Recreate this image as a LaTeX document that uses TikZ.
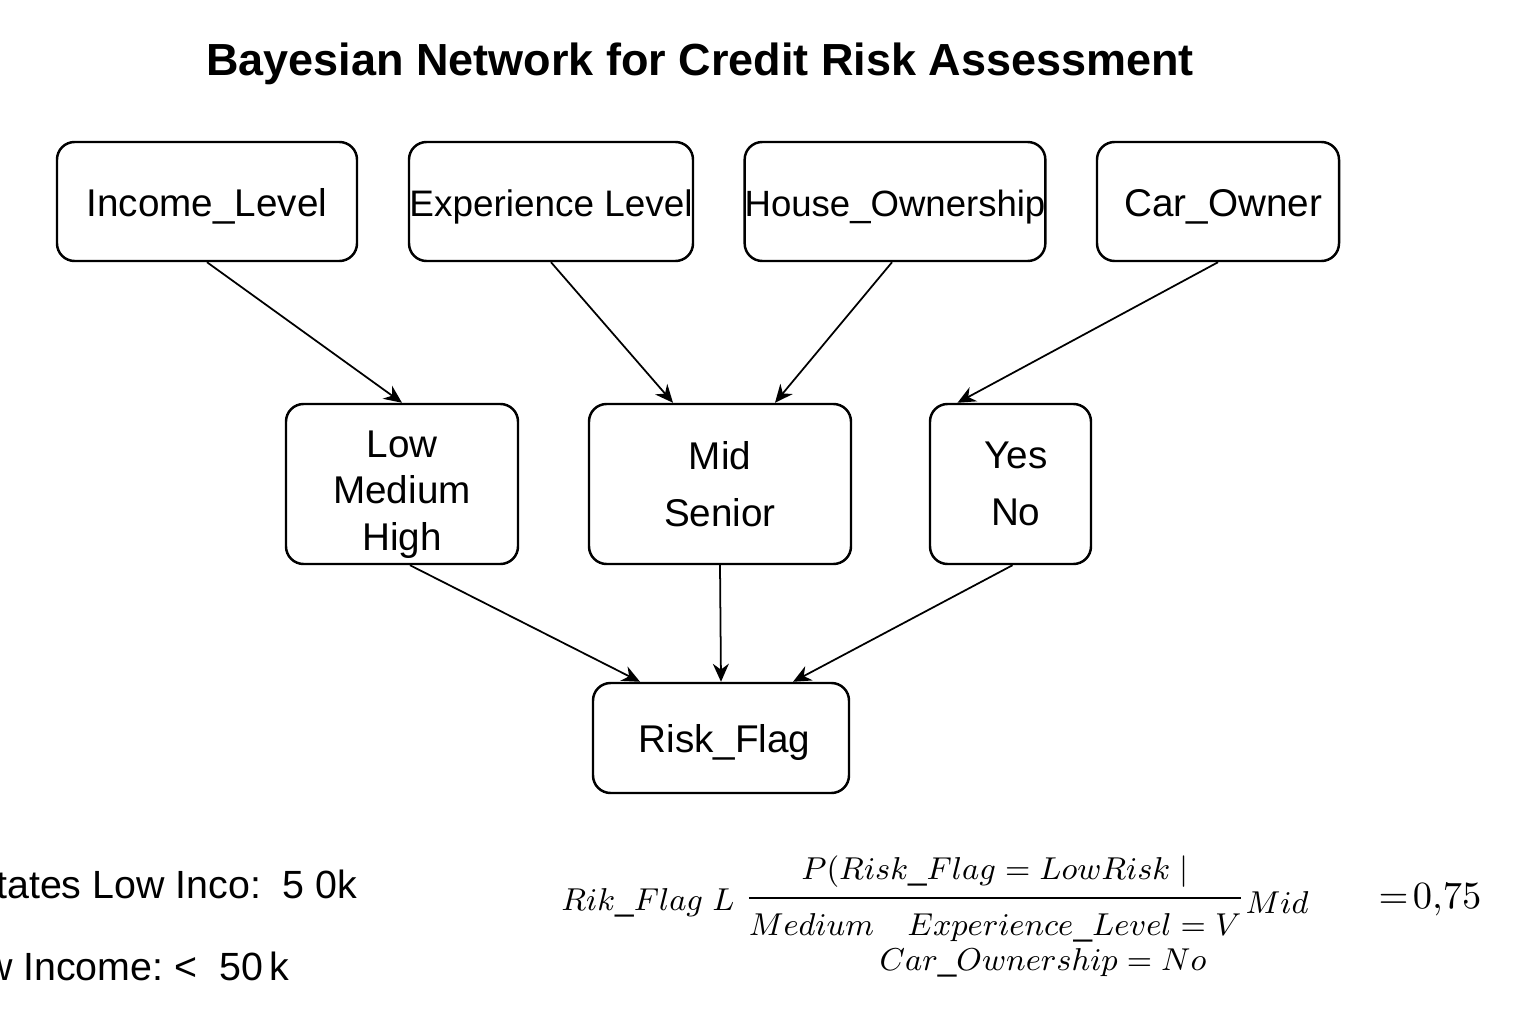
\documentclass[tikz,border=0pt]{standalone}
\usepackage[no-math]{fontspec}
\setmainfont{Liberation Sans}
\usepackage{amsmath}
\usepackage{tikz}
\usetikzlibrary{arrows.meta,positioning,calc}

\tikzset{
  bnode/.style={draw, line width=0.7pt, rounded corners=5pt, align=center,
    font=\fontsize{11}{13.2}\selectfont, inner sep=0pt},
  oneline/.style={text height=8.5pt, text depth=0pt},
  bedge/.style={-{Stealth[length=1.8mm, width=1.6mm]}, line width=0.5pt},
  eqtext/.style={font=\fontsize{9.5}{11.5}\selectfont, inner sep=0pt},
  notetext/.style={anchor=base east, font=\fontsize{11.2}{13}\selectfont, inner sep=0pt}
}

\begin{document}
\begin{tikzpicture}
  \useasboundingbox (0,0) rectangle (15.36,10.24);
  \node[font=\fontsize{12.8}{15}\selectfont\bfseries] (title) at (7.00,9.60)
    {Bayesian Network for Credit Risk Assessment};
  % parent variables
  \node[bnode, oneline, minimum width=3.00cm, minimum height=1.19cm] (income) at (2.07,8.225) {Income\_Level};
  \node[bnode, oneline, minimum width=2.84cm, minimum height=1.19cm,
    font=\fontsize{10.5}{12}\selectfont] (exper) at (5.51,8.225) {Experience Level};
  \node[bnode, oneline, minimum width=3.00cm, minimum height=1.19cm,
    font=\fontsize{10.4}{12}\selectfont] (house) at (8.95,8.225) {House\_Ownership};
  \node[bnode, oneline, minimum width=2.42cm, minimum height=1.19cm] (car) at (12.18,8.225) {\hspace*{3pt}Car\_Owner};
  % states
  \node[bnode, minimum width=2.32cm, minimum height=1.60cm] (lmh) at (4.02,5.40)
    {\rule{0pt}{13.5pt}Low\\Medium\\High};
  \node[bnode, minimum width=2.62cm, minimum height=1.60cm] (mid) at (7.20,5.40)
    {Mid\\[3pt]Senior};
  \node[bnode, minimum width=1.61cm, minimum height=1.60cm] (yesno) at (10.105,5.40)
    {\hspace*{3pt}Yes\\[3pt]\hspace*{3pt}No};
  % child
  \node[bnode, oneline, minimum width=2.56cm, minimum height=1.10cm] (risk) at (7.21,2.86) {\hspace*{2pt}Risk\_Flag};
  % edges
  \draw[bedge] (income.south) -- (lmh.north);
  \draw[bedge] (exper.south) -- ($(mid.north)+(-0.47,0)$);
  \draw[bedge] ($(house.south)+(-0.03,0)$) -- ($(mid.north)+(0.55,0)$);
  \draw[bedge] (car.south) -- ($(yesno.north)+(-0.53,0)$);
  \draw[bedge] ($(lmh.south)+(0.08,0)$) -- ($(risk.north)+(-0.81,0)$);
  \draw[bedge] (mid.south) -- (risk.north);
  \draw[bedge] ($(yesno.south)+(0.02,0)$) -- ($(risk.north)+(0.72,0)$);
  % notes
  \node[notetext] (note1) at (3.58,1.26) {states Low Inco:\ \ 5\ 0k};
  \node[notetext] (note2) at (2.90,0.44) {Low Income:\ < \ 50\,k};
  % formula
  \node[eqtext] (rik) at (6.48,1.21) {$Rik\_Flag\ L$};
  \node[eqtext] (frac) at (9.95,1.25)
    {$\dfrac{P(Risk\_Flag = LowRisk\ |\rule[-4pt]{0pt}{1pt}}{\rule{0pt}{9.5pt}Medium\quad Experience\_Level = V}$};
  \node[eqtext] (mideq) at (12.77,1.21) {$Mid$};
  \node[eqtext, font=\fontsize{11}{13}\selectfont] (val) at (14.30,1.24) {$=\!0{,}75$};
  \node[eqtext] (carno) at (10.43,0.61) {$Car\_Ownership = No$};
\end{tikzpicture}
\end{document}
